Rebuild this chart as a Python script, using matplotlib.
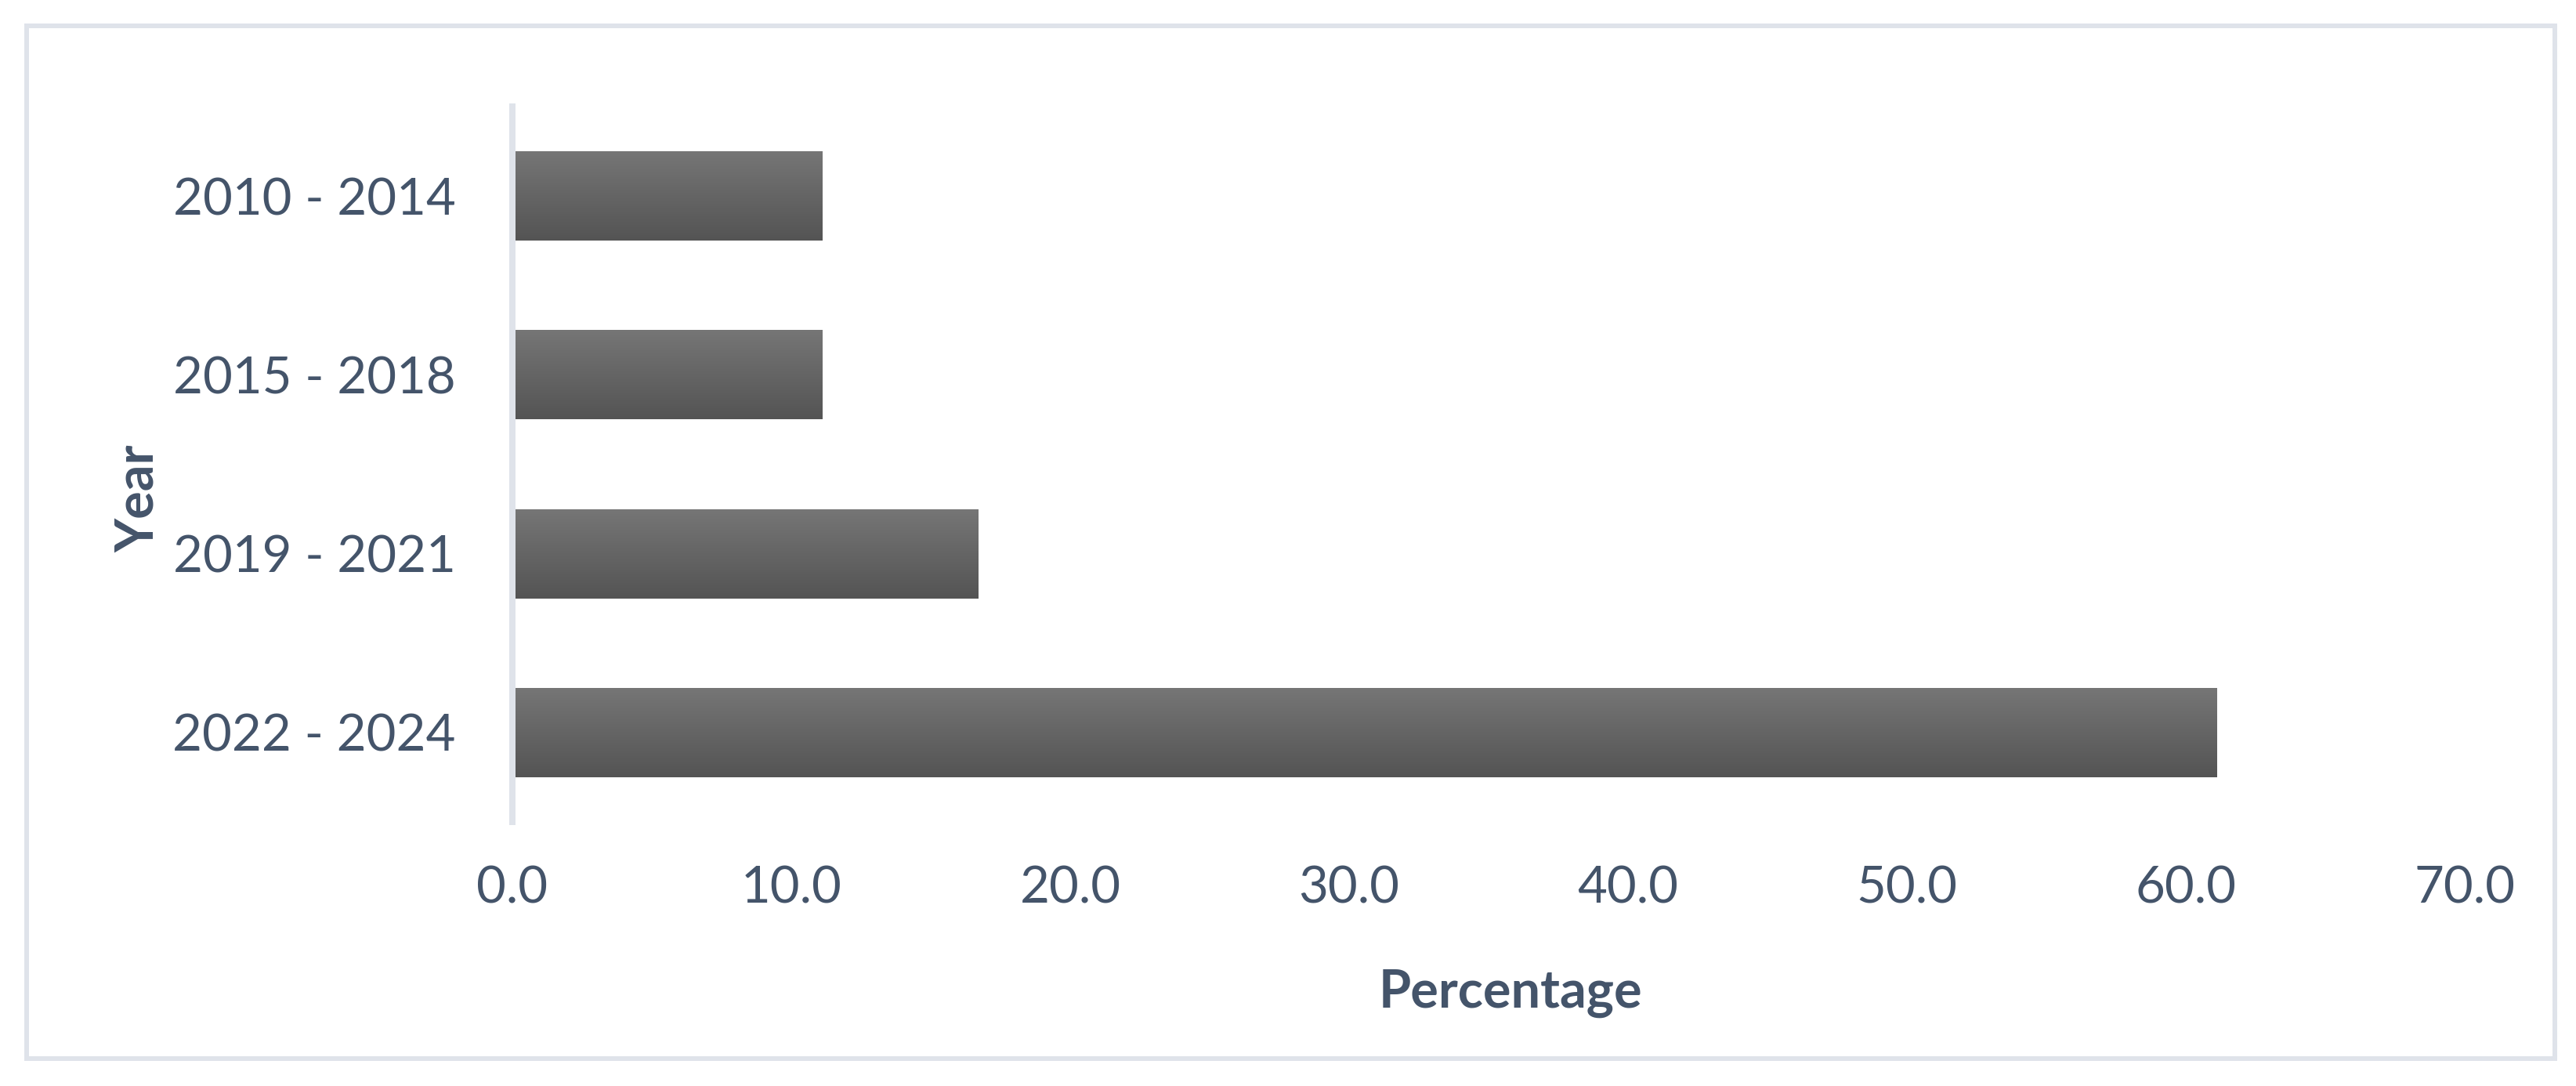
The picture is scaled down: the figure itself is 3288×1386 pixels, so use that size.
import numpy as np
import matplotlib.pyplot as plt
from matplotlib.patches import Rectangle
from matplotlib.colors import LinearSegmentedColormap

# data
periods = ["2010 - 2014", "2015 - 2018", "2019 - 2021", "2022 - 2024"]
percentages = [11.1, 11.1, 16.7, 61.1]
x_ticks = [0, 10, 20, 30, 40, 50, 60, 70]

W, H = 3288, 1386
DPI = 100
TEXT = "#44546a"
LINE = "#dfe3ea"

plt.rcParams["font.family"] = ["Lato", "DejaVu Sans"]

fig = plt.figure(figsize=(W / DPI, H / DPI), dpi=DPI)
fig.patch.set_facecolor("white")

# chart area border
fig.patches.append(Rectangle((34 / W, 1 - 1351 / H), (3261 - 34) / W, (1351 - 33) / H,
                             transform=fig.transFigure, fill=False,
                             edgecolor=LINE, linewidth=6 * 72 / DPI))

ax = fig.add_axes([654 / W, 1 - 1049 / H, (3146 - 654) / W, (1049 - 136) / H])

ypos = np.arange(len(periods))
bars = ax.barh(ypos, percentages, height=0.5, color="#636363", zorder=2)

# vertical grey gradient on every bar, clipped to the bar itself
grad = LinearSegmentedColormap.from_list("g", ["#767676", "#545454"])
ramp = np.linspace(0, 1, 256).reshape(-1, 1)
for b in bars:
    x0, y0 = b.get_x(), b.get_y()
    im = ax.imshow(ramp, cmap=grad, aspect="auto", origin="upper",
                   extent=(x0, x0 + b.get_width(), y0 + b.get_height(), y0),
                   zorder=3)
    im.set_clip_path(b)

ax.set_xlim(0, 70)
ax.set_ylim(3.5, -0.5)
ax.set_xticks(x_ticks)
ax.set_xticklabels([f"{v:.1f}" for v in x_ticks])
ax.set_yticks(ypos)
ax.set_yticklabels(periods)

for s in ["top", "right", "bottom"]:
    ax.spines[s].set_visible(False)
ax.spines["left"].set_color(LINE)
ax.spines["left"].set_linewidth(8 * 72 / DPI)
ax.spines["left"].set_zorder(4)

ax.tick_params(axis="both", length=0, labelsize=47, labelcolor=TEXT)
ax.tick_params(axis="y", pad=52)
ax.tick_params(axis="x", pad=40)

fig.text(1928 / W, 1 - 1268 / H, "Percentage", ha="center", va="center",
         fontsize=48, fontweight="bold", color=TEXT)
fig.text(177 / W, 1 - 636 / H, "Year", ha="center", va="center", rotation=90,
         fontsize=48, fontweight="bold", color=TEXT)

fig.savefig("out.png", dpi=DPI, facecolor="white")
